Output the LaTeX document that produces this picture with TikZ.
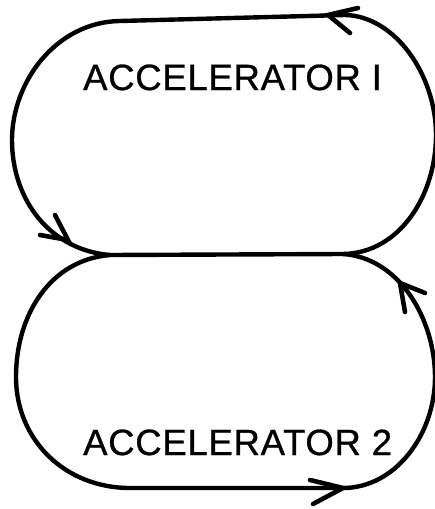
\documentclass[tikz,border=0pt]{standalone}
\usepackage{fontspec}
\setmainfont{Liberation Sans}
\newfontfamily\lettering[FakeBold=0.8,LetterSpace=2]{Liberation Sans}
\begin{document}
\begin{tikzpicture}[x=1pt,y=-1pt,
  ring/.style={line width=4.4pt,line cap=round,line join=round},
  vtip/.style={line width=4.6pt,line cap=round,line join=miter},
  label/.style={inner sep=0pt,anchor=base west,font=\lettering\fontsize{36.5}{40}\selectfont}]
\useasboundingbox (0,0) rectangle (435,509);
% cusp and tip coordinates
\coordinate (ML) at (110,255);
\coordinate (MR) at (343,254);
\coordinate (TL) at (120,21);
\coordinate (TR) at (345,15);
\coordinate (BL) at (130,488);
\coordinate (BR) at (343,488);
% accelerator 1
\draw[ring] (TR) .. controls (395,16) and (436,75) .. (436,135)
  .. controls (436,195) and (400,253) .. (MR) -- (ML)
  .. controls (50,250) and (12,200) .. (12,140)
  .. controls (12,82) and (56,22) .. (TL) -- cycle;
% accelerator 2
\draw[ring] (ML) .. controls (50,260) and (16,315) .. (16,377)
  .. controls (16,440) and (65,488) .. (BL) -- (BR)
  .. controls (395,488) and (435,435) .. (435,377)
  .. controls (435,320) and (400,258) .. (MR);
% arrowheads
\coordinate (a1) at (328,15);
\draw[vtip] (358,8) -- (a1) -- (350,33);
\coordinate (a2) at (68,240);
\draw[vtip] (40,235) -- (a2) -- (55,215);
\coordinate (a3) at (400,283);
\draw[vtip] (425,293) -- (a3) -- (405,312);
\coordinate (a4) at (343,488);
\draw[vtip] (310,480) -- (a4) -- (313,504);
% labels
\node[label] (acc1) at (83,90) {ACCELERATOR I};
\node[label] (acc2) at (83,455) {ACCELERATOR 2};
\end{tikzpicture}
\end{document}
